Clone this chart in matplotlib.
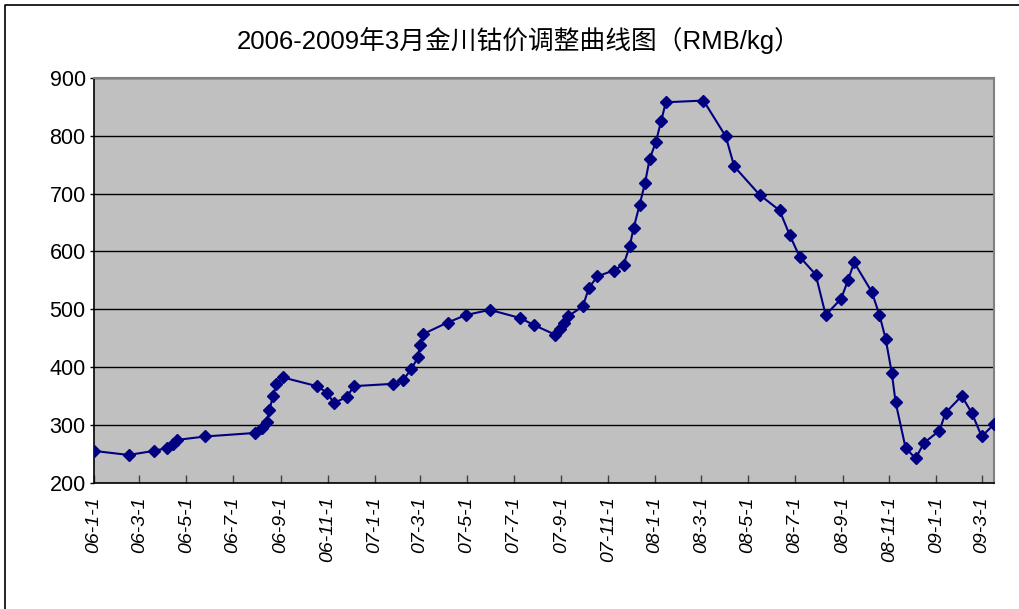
import pandas as pd
import matplotlib.pyplot as plt
from matplotlib.lines import Line2D

plt.rcParams["font.family"] = ["Liberation Sans", "Noto Sans CJK SC", "DejaVu Sans"]

# dates of each price change and the price (RMB/kg)
dates = [
    "2006-01-01", "2006-02-15", "2006-03-20", "2006-04-06", "2006-04-14",
    "2006-04-19", "2006-05-26", "2006-07-29", "2006-08-07", "2006-08-14",
    "2006-08-17", "2006-08-22", "2006-08-26", "2006-09-04", "2006-10-18",
    "2006-10-31", "2006-11-09", "2006-11-26", "2006-12-05", "2007-01-25",
    "2007-02-07", "2007-02-18", "2007-02-27", "2007-03-01", "2007-03-05",
    "2007-04-06", "2007-04-30", "2007-05-31", "2007-07-09", "2007-07-27",
    "2007-08-24", "2007-08-30", "2007-09-04", "2007-09-10", "2007-09-29",
    "2007-10-07", "2007-10-18", "2007-11-08", "2007-11-21", "2007-11-29",
    "2007-12-04", "2007-12-12", "2007-12-19", "2007-12-25", "2008-01-02",
    "2008-01-09", "2008-01-15", "2008-03-04", "2008-04-02", "2008-04-13",
    "2008-05-16", "2008-06-11", "2008-06-24", "2008-07-07", "2008-07-28",
    "2008-08-10", "2008-08-30", "2008-09-08", "2008-09-16", "2008-10-09",
    "2008-10-19", "2008-10-27", "2008-11-04", "2008-11-09", "2008-11-22",
    "2008-12-05", "2008-12-16", "2009-01-05", "2009-01-13", "2009-02-03",
    "2009-02-16", "2009-03-01", "2009-03-17",
]
prices = [
    255, 248, 255, 260, 267,
    274, 280, 286, 294, 305,
    325, 350, 370, 382, 367,
    356, 338, 348, 367, 371,
    377, 397, 418, 438, 457,
    477, 490, 499, 485, 473,
    456, 466, 476, 488, 505,
    537, 557, 567, 577, 609,
    640, 681, 719, 760, 789,
    826, 858, 861, 799, 747,
    698, 671, 629, 591, 560,
    490, 518, 550, 581, 530,
    490, 449, 390, 339, 260,
    242, 269, 290, 321, 350,
    321, 280, 301,
]

x = pd.to_datetime(dates)

fig = plt.figure(figsize=(10.19, 6.09), dpi=100)
ax = fig.add_axes([94 / 1019, 1 - 482.7 / 609, 900 / 1019, 404.7 / 609])
ax.set_facecolor("#C0C0C0")

ax.plot(x, prices, color="#000080", lw=1.5, marker="D", ms=6.2,
        mec="#000080", mfc="#000080", zorder=3)

ax.set_ylim(200, 900)
ax.set_yticks(range(200, 901, 100))
ax.set_xlim(x[0], x[-1])
ax.yaxis.grid(True, color="black", lw=1)
ax.set_axisbelow(True)

ticks = pd.date_range("2006-01-01", "2009-03-01", freq="2MS")
ax.set_xticks(ticks)
ax.set_xticklabels([f"{t.year % 100:02d}-{t.month}-{t.day}" for t in ticks],
                   rotation=90, fontsize=14, fontstyle="italic")
ax.tick_params(axis="x", direction="in", length=6, width=1, pad=10, color="#404040")
ax.tick_params(axis="y", direction="out", length=3, width=1, pad=3, labelsize=15.5)

for side in ("left", "bottom"):
    ax.spines[side].set_color("black")
    ax.spines[side].set_linewidth(1.2)
for side in ("top", "right"):
    ax.spines[side].set_color("#808080")
    ax.spines[side].set_linewidth(1.5)

fig.text(0.509, 0.934, "2006-2009年3月金川钴价调整曲线图（RMB/kg）",
         ha="center", va="center", fontsize=18.5,
         family=["Liberation Sans", "Noto Sans CJK SC"])

# outer chart border (cropped at right and bottom)
fig.add_artist(Line2D([4.5 / 1019, 4.5 / 1019, 1.0], [0.0, 1 - 5 / 609, 1 - 5 / 609],
                      transform=fig.transFigure, color="black", lw=1.2))

fig.savefig("out.png", dpi=100)
